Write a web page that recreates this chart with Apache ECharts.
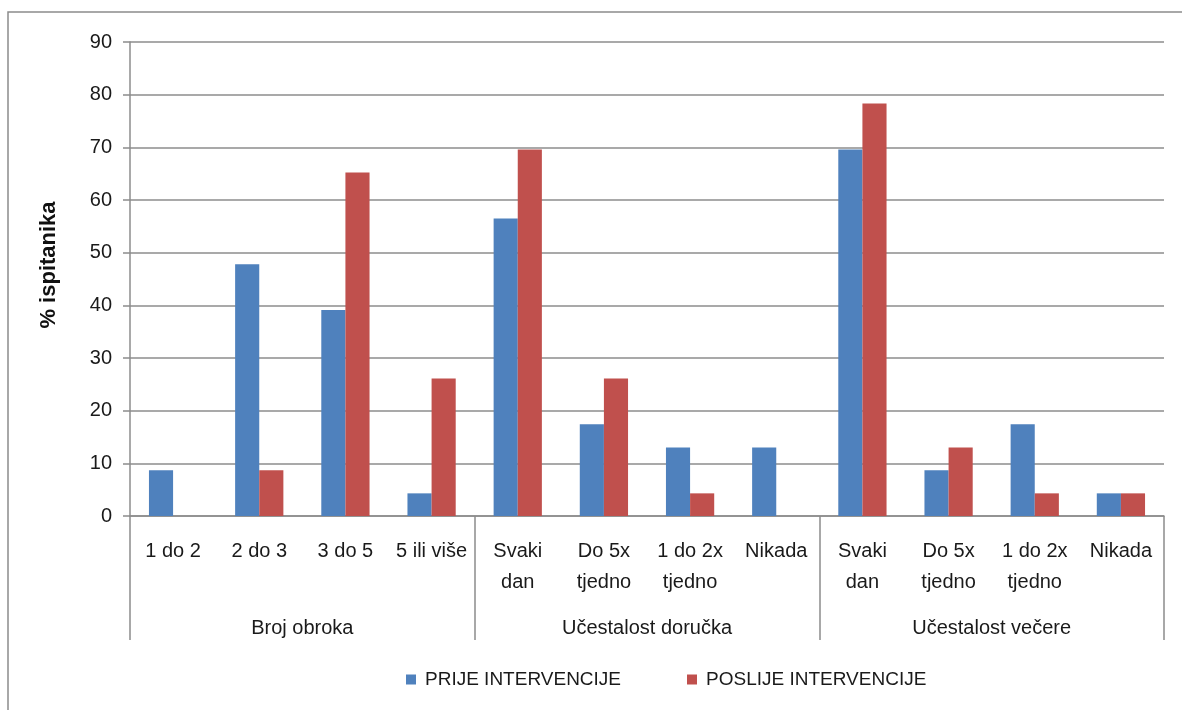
<!DOCTYPE html>
<html>
<head>
<meta charset="utf-8">
<script src="https://cdn.jsdelivr.net/npm/echarts@6/dist/echarts.min.js"></script>
<style>
html,body{margin:0;padding:0;background:#fff;}
#c{width:1182px;height:710px;}
</style>
</head>
<body>
<div id="c"></div>
<script>
const categories = ['1 do 2','2 do 3','3 do 5','5 ili više','Svaki\ndan','Do 5x\ntjedno','1 do 2x\ntjedno','Nikada','Svaki\ndan','Do 5x\ntjedno','1 do 2x\ntjedno','Nikada'];
const groups = ['Broj obroka','Učestalost doručka','Učestalost večere'];
const seriesNames = ['PRIJE INTERVENCIJE','POSLIJE INTERVENCIJE'];
const prije = [8.7, 47.8, 39.1, 4.3, 56.5, 17.4, 13.0, 13.0, 69.6, 8.7, 17.4, 4.3];
const poslije = [null, 8.7, 65.2, 26.1, 69.6, 26.1, 4.3, null, 78.3, 13.0, 4.3, 4.3];
const yTicks = [0,10,20,30,40,50,60,70,80,90];

const FONT = "'Liberation Sans', sans-serif";
const chart = echarts.init(document.getElementById('c'));
chart.setOption({
  animation:false,
  backgroundColor:'#fff',
  textStyle:{fontFamily:FONT},
  graphic:[{type:'rect',shape:{x:8,y:12,width:1250,height:760},style:{fill:'none',stroke:'#8c8c8c',lineWidth:1.5},silent:true,z:-1}],
  grid:{left:130,right:18,top:42,bottom:194},
  legend:{
    data:seriesNames,bottom:16,left:401,
    itemWidth:10,itemHeight:10,itemGap:66,icon:'rect',
    textStyle:{fontSize:19,color:'#1a1a1a',fontFamily:FONT,padding:[0,0,0,4]}
  },
  xAxis:[{
    type:'category',data:categories,position:'bottom',
    axisLine:{show:true,lineStyle:{color:'#8c8c8c',width:1.5}},
    axisTick:{show:false},
    axisLabel:{interval:0,fontSize:20,color:'#1a1a1a',margin:20,lineHeight:31,fontFamily:FONT}
  },{
    type:'category',data:groups,position:'bottom',
    axisLine:{show:false},
    axisTick:{show:true,length:124,interval:0,lineStyle:{color:'#8c8c8c',width:1.5}},
    axisLabel:{interval:0,fontSize:20,color:'#1a1a1a',margin:102,fontFamily:FONT}
  }],
  yAxis:{
    type:'value',min:yTicks[0],max:yTicks[yTicks.length-1],interval:10,
    name:'% ispitanika',nameLocation:'middle',nameGap:70,
    nameTextStyle:{fontSize:22,fontWeight:'bold',color:'#111',fontFamily:FONT,padding:[0,0,0,28]},
    axisLine:{show:true,lineStyle:{color:'#8c8c8c',width:1.5}},
    axisTick:{show:true,length:7,lineStyle:{color:'#8c8c8c',width:1.5}},
    axisLabel:{fontSize:20,color:'#1a1a1a',margin:18,fontFamily:FONT},
    splitLine:{show:true,lineStyle:{color:'#8c8c8c',width:1.5}}
  },
  series:[{
    name:seriesNames[0],type:'bar',data:prije,xAxisIndex:0,
    barGap:'0%',barCategoryGap:'44%',
    itemStyle:{color:'#4F81BD'}
  },{
    name:seriesNames[1],type:'bar',data:poslije,xAxisIndex:0,
    barGap:'0%',barCategoryGap:'44%',
    itemStyle:{color:'#C0504D'}
  }]
});
</script>
</body>
</html>
